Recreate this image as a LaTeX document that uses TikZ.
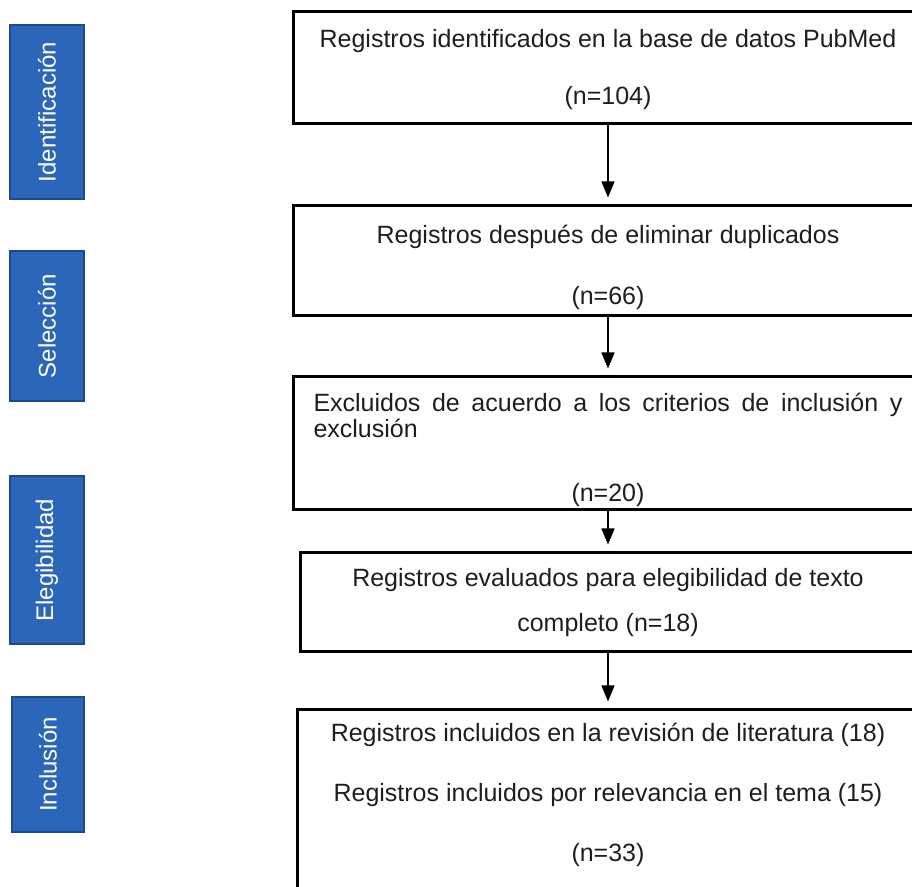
\documentclass[tikz,border=0pt]{standalone}
\usepackage{fontspec}
\setmainfont{Liberation Sans}
\usetikzlibrary{arrows.meta}

\definecolor{azulfase}{RGB}{44,102,186}
\definecolor{azulborde}{RGB}{30,72,145}
\definecolor{textocaja}{RGB}{30,30,30}

\tikzset{fase/.style = {rotate=90, draw=azulborde, fill=azulfase, line width=0.8pt,
                        minimum width=#1, minimum height=37pt, inner sep=0pt,
                        text=white, font=\fontsize{12pt}{14pt}\selectfont},
         fase/.default=80pt,
         caja/.style = {draw, line width=1.5pt, minimum width=315pt, minimum height=#1,
                        align=center, inner sep=0pt, text=textocaja},
         caja/.default=55pt,
         flecha/.style = {line width=0.65pt, -{Triangle[length=8pt,width=6.5pt]},
                          shorten >=3.5pt}
        }

\begin{document}
\begin{tikzpicture}[x=0.5pt, y=-0.5pt]
  \useasboundingbox (0,0) rectangle (912,887);
  \clip (0,0) rectangle (912,887);
  % etapas
  \node[fase=87pt] (ident) at (47,112) {Identificación};
  \node[fase=75pt] (selec) at (47,326) {Selección};
  \node[fase=84pt] (elegi) at (47,560) {Elegibilidad};
  \node[fase=67.5pt, minimum height=36pt] (inclu) at (48,764.5) {Inclusión};

  % cajas
  \node[caja=56pt, font=\fontsize{12.5pt}{28.5pt}\selectfont] (reg) at (608,68)
       {\rule{0pt}{11pt}Registros identificados en la base de datos PubMed\\(n=104)};
  \node[caja=55pt, font=\fontsize{12.5pt}{30.5pt}\selectfont] (dup) at (608,261)
       {\rule{0pt}{15.5pt}Registros después de eliminar duplicados\\(n=66)};
  \node[caja=66.5pt, font=\fontsize{12.5pt}{13pt}\selectfont] (excl) at (608,443.5)
       {\rule{0pt}{15.5pt}\makebox[294.5pt][s]{Excluidos de acuerdo a los criterios de inclusión y}\\
        \makebox[294.5pt][l]{exclusión}\\[19pt](n=20)};
  \node[caja=49.5pt, minimum width=308pt, font=\fontsize{12.5pt}{22.5pt}\selectfont] (eval) at (608,602.5)
       {Registros evaluados para elegibilidad de texto\\completo (n=18)};
  \node[caja=112.5pt, minimum width=311pt, font=\fontsize{12.5pt}{30pt}\selectfont] (incl) at (608,822.5)
       {Registros incluidos en la revisión de literatura (18)\\
        Registros incluidos por relevancia en el tema (15)\\(n=33)\\\mbox{}};

  % flechas
  \draw[flecha] (reg) -- (dup);
  \draw[flecha] (dup) -- (excl);
  \draw[flecha] (excl) -- (eval);
  \draw[flecha] (eval) -- (incl);
\end{tikzpicture}
\end{document}
